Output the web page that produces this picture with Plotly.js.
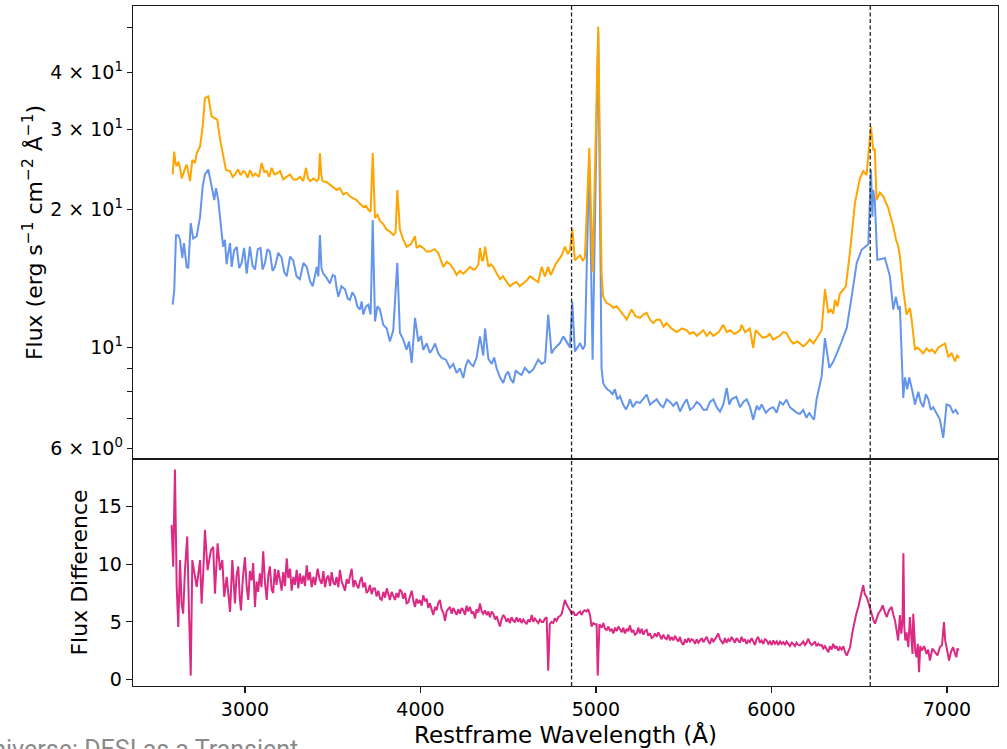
<!DOCTYPE html>
<html>
<head>
<meta charset="utf-8">
<script src="https://cdn.plot.ly/plotly-3.0.1.min.js"></script>
<style>html,body{margin:0;padding:0;background:#fff;}#chart{width:1007px;height:749px;}</style>
</head>
<body>
<div id="chart"></div>
<script>
// ---- Data ----
const waveOrange = [2588,2597,2604,2611,2620,2630,2640,2648,2658,2668,2678,2687,2700,2715,2725,2744,2759,2772,2791,2801,2810,2829,2842,2858,2876,2892,2915,2930,2943,2960,2975,2990,3000,3015,3028,3045,3060,3080,3095,3110,3124,3138,3152,3168,3181,3200,3218,3238,3256,3275,3295,3315,3332,3348,3360,3370,3390,3409,3420,3427,3435,3443,3465,3484,3503,3523,3540,3560,3580,3598,3615,3636,3655,3674,3690,3703,3716,3728,3741,3755,3769,3788,3807,3828,3845,3858,3868,3883,3900,3921,3945,3969,3978,3995,4016,4035,4054,4080,4101,4115,4130,4150,4168,4190,4206,4225,4244,4262,4282,4300,4311,4330,4339,4350,4358,4368,4387,4400,4415,4435,4453,4470,4491,4510,4530,4548,4566,4586,4605,4624,4650,4671,4691,4709,4728,4742,4757,4770,4785,4805,4823,4840,4852,4865,4880,4895,4909,4925,4937,4962,4981,5013,5032,5041,5061,5080,5099,5118,5137,5155,5175,5190,5203,5225,5251,5270,5289,5308,5327,5345,5365,5385,5403,5430,5460,5490,5517,5535,5555,5575,5593,5612,5631,5650,5669,5700,5726,5745,5764,5790,5821,5830,5850,5877,5896,5910,5925,5950,5973,5990,6010,6030,6048,6067,6086,6105,6124,6150,6181,6200,6219,6240,6257,6286,6305,6324,6338,6352,6362,6376,6390,6424,6447,6476,6504,6523,6542,6567,6580,6589,6599,6618,6637,6665,6694,6710,6723,6732,6751,6770,6789,6799,6818,6830,6846,6865,6884,6900,6915,6932,6951,6970,6989,7008,7027,7046,7058,7070];
const fluxOrange = [23.9,26.8,25.3,24.9,25.5,24.7,23.4,24.0,24.6,25.1,24.2,23.1,25.7,25.3,26.6,27.5,30.4,35.1,35.4,33.7,32.0,31.7,31.5,28.5,26.2,24.4,24.3,23.6,23.9,24.5,23.8,24.3,24.2,23.5,24.4,23.7,24.0,23.6,25.3,24.2,24.3,23.6,24.7,23.9,24.0,24.3,23.3,23.6,23.9,23.3,23.3,23.6,23.1,24.7,23.4,23.1,23.4,23.1,23.4,26.6,23.8,23.1,23.0,22.7,22.4,22.1,22.3,21.6,21.8,21.4,21.2,21.0,20.6,20.3,20.4,20.0,19.8,26.6,19.2,19.5,18.9,18.6,18.1,17.9,17.6,17.8,22.1,18.1,17.3,16.6,16.8,17.5,16.5,16.7,16.5,16.2,16.2,16.4,16.1,15.6,15.0,15.4,15.2,14.8,14.4,14.7,14.5,14.7,15.0,14.8,14.8,15.2,16.5,15.5,15.5,16.6,15.0,15.2,15.0,14.5,14.1,14.3,13.9,13.6,13.8,13.9,13.6,13.8,14.0,14.3,14.1,13.9,15.0,14.3,15.0,14.4,14.8,15.2,15.5,15.9,16.6,16.0,16.3,18.2,15.5,15.7,15.9,15.5,15.7,27.3,14.6,50.3,14.5,12.9,12.5,12.4,12.2,12.3,12.0,11.8,11.5,11.8,12.1,11.7,11.6,11.8,11.9,11.5,11.3,11.5,11.5,11.1,11.3,11.0,10.8,11.0,10.9,10.7,10.8,10.6,10.75,10.9,10.6,10.8,10.6,10.8,11.2,10.8,10.9,10.7,10.9,11.2,10.8,11.0,9.97,10.9,10.75,10.5,10.55,10.7,10.4,10.5,10.6,10.8,10.75,10.4,10.2,10.3,10.05,10.2,10.4,10.2,10.45,10.9,13.4,11.9,12.1,11.85,12.7,12.3,13.1,13.6,16.1,20.7,23.4,24.3,23.8,30.4,27.0,27.2,21.0,21.8,21.4,20.2,18.4,17.2,16.6,15.8,13.4,11.8,12.2,11.5,9.88,10.0,9.88,9.7,9.95,9.8,9.9,9.72,10.0,10.1,10.2,9.55,9.7,9.32,9.6,9.48];

const waveBlue = [2588,2597,2607,2620,2630,2643,2652,2668,2677,2691,2705,2725,2744,2759,2772,2791,2810,2825,2835,2848,2867,2876,2886,2895,2905,2915,2924,2938,2953,2967,2981,2995,3010,3019,3028,3043,3057,3073,3089,3100,3114,3128,3142,3157,3171,3190,3209,3224,3238,3257,3275,3294,3313,3333,3352,3370,3386,3400,3409,3418,3427,3436,3446,3465,3484,3500,3513,3522,3532,3550,3570,3585,3598,3612,3627,3640,3655,3665,3674,3690,3703,3716,3728,3741,3755,3769,3788,3808,3826,3845,3868,3883,3902,3921,3935,3950,3969,3988,4003,4016,4035,4054,4068,4083,4102,4121,4145,4168,4187,4206,4225,4244,4258,4272,4286,4301,4320,4339,4358,4368,4387,4406,4420,4434,4453,4472,4486,4500,4515,4529,4543,4557,4576,4595,4620,4643,4657,4671,4691,4710,4728,4747,4760,4776,4795,4814,4833,4852,4865,4880,4895,4909,4925,4937,4962,4981,5013,5032,5041,5051,5065,5080,5094,5108,5122,5137,5155,5171,5185,5194,5210,5230,5251,5270,5289,5308,5327,5346,5365,5384,5403,5422,5441,5460,5479,5498,5517,5536,5555,5574,5593,5612,5631,5650,5669,5688,5707,5726,5745,5760,5773,5800,5821,5840,5859,5878,5896,5916,5930,5944,5968,5992,6010,6030,6048,6067,6086,6105,6124,6143,6162,6181,6200,6215,6229,6243,6257,6286,6305,6330,6352,6365,6381,6400,6429,6457,6486,6514,6533,6552,6567,6575,6580,6589,6603,6627,6646,6660,6675,6694,6709,6723,6732,6751,6761,6774,6785,6804,6818,6837,6850,6865,6880,6894,6908,6922,6941,6960,6979,6998,7017,7035,7050,7064];
const fluxBlue = [12.4,13.3,17.6,17.6,17.2,15.7,16.9,15.0,14.9,18.7,17.3,17.5,19.3,22.5,23.9,24.5,22.5,21.0,22.3,21.0,17.8,16.6,17.2,15.2,16.1,16.9,15.0,16.3,16.6,14.9,15.3,16.5,14.5,15.6,16.6,15.1,14.8,16.4,16.5,14.8,15.3,16.4,16.2,14.7,15.0,16.1,15.7,14.6,14.3,15.8,15.5,14.3,14.1,15.3,15.0,14.0,13.6,14.4,15.0,14.3,17.6,14.9,14.5,14.2,13.8,14.4,14.3,13.5,12.9,13.6,13.4,12.8,12.7,13.2,12.9,12.3,12.1,12.6,11.8,12.3,12.4,11.8,19.0,11.4,12.3,12.1,11.2,11.0,10.3,10.9,15.3,10.75,10.4,9.88,10.3,9.25,11.6,10.3,10.6,9.88,10.2,9.72,9.9,10.2,9.7,9.48,9.4,9.02,9.2,8.79,9.0,8.57,9.1,9.40,9.2,9.1,9.5,10.57,9.6,11.0,9.45,9.2,9.5,9.0,8.6,8.36,8.7,8.85,8.5,8.36,8.9,8.8,8.7,9.02,8.8,8.95,9.2,9.4,9.2,9.3,11.8,9.7,9.9,10.05,10.22,10.57,10.3,10.0,12.6,9.8,10.0,10.22,9.9,10.1,26.0,9.4,49.0,9.0,8.36,8.22,8.1,8.02,7.9,8.1,7.7,7.82,7.5,7.31,7.5,7.7,7.4,7.6,7.56,7.7,7.88,7.5,7.6,7.7,7.5,7.4,7.7,7.6,7.45,7.6,7.24,7.5,7.7,7.3,7.4,7.6,7.5,7.3,7.3,7.6,7.7,7.4,7.24,7.5,8.15,7.5,7.7,7.8,7.4,7.6,7.7,7.4,6.95,7.45,7.3,7.5,7.2,7.35,7.4,7.2,7.6,7.5,7.69,7.4,7.3,7.2,7.15,7.3,7.01,7.2,7.05,6.95,7.69,8.64,10.48,9.02,9.3,9.6,9.88,10.3,11.03,12.9,15.3,16.35,16.6,16.8,24.5,19.3,22.1,21.0,15.55,15.6,15.7,15.0,14.3,12.1,12.9,12.1,12.3,7.75,8.6,8.1,8.6,8.0,7.5,8.0,7.6,7.4,7.9,7.7,7.3,7.4,7.19,6.95,6.34,7.5,7.45,7.2,7.3,7.13];

const waveDiff = [2582,2591,2601,2611,2620,2630,2639,2648,2658,2671,2681,2691,2700,2711,2725,2744,2753,2762,2772,2787,2806,2819,2829,2844,2858,2871,2882,2896,2915,2928,2943,2952,2962,2970,2977,2988,3000,3010,3019,3028,3038,3047,3057,3066,3075,3085,3094,3104,3114,3124,3133,3142,3152,3161,3170,3180,3190,3200,3209,3218,3228,3238,3247,3257,3266,3276,3285,3295,3304,3313,3323,3333,3342,3352,3361,3370,3380,3390,3400,3414,3425,3437,3447,3456,3466,3475,3485,3494,3504,3513,3522,3532,3541,3551,3560,3570,3580,3590,3599,3608,3618,3627,3636,3646,3655,3665,3674,3684,3693,3703,3712,3722,3731,3741,3750,3760,3770,3779,3789,3798,3808,3817,3826,3836,3845,3855,3864,3874,3883,3893,3902,3912,3921,3931,3940,3950,3960,3969,3978,3988,3997,4007,4016,4026,4035,4045,4054,4064,4073,4083,4092,4101,4111,4120,4130,4140,4149,4158,4168,4178,4187,4197,4206,4216,4225,4235,4244,4254,4263,4272,4282,4292,4301,4311,4320,4330,4339,4349,4358,4368,4377,4387,4396,4406,4415,4425,4434,4444,4453,4462,4472,4481,4491,4500,4510,4519,4529,4538,4548,4557,4567,4576,4586,4595,4605,4614,4624,4634,4643,4652,4662,4671,4681,4691,4700,4710,4719,4728,4737,4747,4757,4766,4776,4785,4795,4805,4814,4823,4833,4842,4852,4862,4871,4880,4890,4900,4909,4918,4928,4937,4947,4956,4966,4975,4985,4994,5004,5010,5020,5033,5042,5052,5061,5071,5080,5090,5099,5109,5118,5128,5137,5147,5156,5165,5175,5184,5194,5203,5213,5222,5232,5241,5251,5260,5270,5279,5289,5298,5308,5317,5327,5336,5346,5355,5365,5374,5384,5393,5403,5412,5422,5431,5441,5450,5460,5470,5479,5488,5498,5508,5517,5527,5536,5546,5555,5565,5574,5584,5593,5603,5612,5622,5631,5641,5650,5660,5669,5679,5688,5697,5707,5716,5725,5735,5744,5754,5763,5773,5782,5792,5801,5811,5820,5830,5839,5849,5858,5868,5877,5887,5896,5906,5915,5925,5934,5944,5953,5963,5973,5982,5992,6001,6011,6020,6030,6039,6049,6058,6067,6077,6086,6096,6105,6115,6124,6134,6143,6153,6162,6172,6181,6191,6200,6210,6219,6229,6238,6248,6257,6267,6276,6286,6295,6305,6314,6324,6333,6343,6352,6362,6371,6381,6390,6400,6410,6419,6429,6438,6448,6459,6470,6482,6495,6509,6523,6532,6542,6552,6561,6571,6580,6590,6600,6609,6622,6634,6645,6657,6670,6685,6695,6704,6714,6722,6732,6740,6747,6752,6757,6763,6770,6780,6789,6796,6804,6808,6815,6820,6827,6834,6841,6848,6856,6870,6884,6893,6903,6917,6932,6946,6960,6972,6983,6990,6998,7005,7012,7023,7035,7045,7054,7060,7067];
const diffVals = [13.4,9.77,18.2,8.03,4.55,10.35,6.58,5.71,9.48,12.4,6.0,0.35,10.35,9.19,8.03,10.35,6.58,9.19,12.96,9.48,11.2,11.5,7.45,11.8,9.48,10.35,7.16,8.9,5.86,10.35,6.6,9.0,9.8,7.2,6.0,8.8,10.6,8.0,6.9,9.4,8.6,10.1,6.3,8.5,7.6,9.2,8.0,11.1,8.4,6.9,9.0,9.8,7.8,7.5,9.6,8.2,9.5,8.6,7.7,9.3,8.1,10.5,8.8,9.6,7.7,8.9,8.2,9.5,7.9,9.2,8.3,9.0,8.1,9.9,8.6,9.3,8.0,8.9,8.2,9.6,8.7,8.3,9.4,8.0,8.8,9.0,8.1,9.3,8.4,8.2,8.9,8.0,9.5,8.5,8.1,7.7,8.7,8.3,9.0,9.6,8.0,8.6,8.2,7.9,8.5,8.9,8.0,8.4,7.5,7.7,8.2,7.4,7.9,7.9,7.2,7.7,7.0,6.9,7.6,7.1,7.9,7.5,6.9,7.6,7.2,6.9,7.5,7.1,7.8,7.6,7.0,7.5,6.6,6.7,7.2,7.7,6.8,6.3,7.0,6.6,6.9,6.4,7.3,6.8,7.0,6.2,6.6,6.0,5.6,6.3,6.0,6.6,6.9,6.1,5.8,5.1,5.9,6.1,6.3,5.7,6.2,5.9,5.6,6.1,5.7,6.2,6.0,5.6,6.4,5.9,6.3,5.7,5.9,5.3,6.1,5.8,6.6,5.9,5.7,6.0,5.6,5.9,5.4,5.9,5.7,5.2,5.5,5.0,4.6,5.2,5.6,5.4,5.0,5.3,4.9,5.4,5.1,5.0,5.4,5.0,5.3,4.9,5.2,5.0,4.8,5.2,5.0,5.6,5.0,5.3,5.1,4.9,5.2,5.0,5.0,5.3,5.4,0.78,4.8,5.0,4.9,5.3,5.1,5.4,5.5,5.7,6.3,6.9,6.5,6.3,6.0,5.7,5.9,5.6,5.6,5.8,5.9,5.6,5.9,6.0,5.9,6.1,5.6,4.6,4.9,4.8,4.8,0.35,4.8,4.5,4.9,4.4,4.3,4.6,4.2,4.4,4.0,4.5,4.2,4.6,4.4,4.1,4.5,4.0,4.4,4.2,4.7,4.1,4.3,3.9,4.0,4.5,4.0,4.4,3.9,4.2,4.3,3.8,4.0,3.6,3.7,4.0,3.7,4.1,3.8,3.5,3.9,3.6,3.5,3.9,3.4,3.7,3.4,3.8,3.5,3.3,3.7,3.2,3.0,3.5,3.2,3.6,3.3,3.5,3.4,3.1,3.5,3.2,3.4,3.6,3.25,3.5,3.7,3.3,3.1,3.6,3.3,3.5,3.7,4.0,3.5,3.3,3.1,3.6,3.2,3.5,3.3,3.7,3.5,3.2,3.6,3.4,3.2,3.7,3.3,3.5,3.1,3.4,3.25,3.6,3.3,3.0,3.5,3.7,3.2,3.4,3.1,3.5,3.4,3.1,3.3,3.0,3.4,3.1,3.3,3.0,3.3,3.1,3.25,3.0,3.3,3.1,2.9,3.2,3.1,2.9,3.2,3.0,2.96,3.1,3.3,3.0,3.2,3.54,3.2,3.0,3.1,3.3,2.9,3.1,2.96,3.0,2.7,2.9,2.6,2.38,2.9,2.6,3.1,2.7,2.9,2.5,2.8,2.6,2.9,2.4,2.09,2.5,2.8,3.9,4.84,5.6,6.29,7.2,8.17,7.4,7.16,6.7,6.29,5.71,5.2,4.84,5.3,5.71,6.0,6.43,5.9,5.42,6.0,6.29,5.6,5.13,4.2,3.39,5.6,3.97,5.2,10.93,4.6,3.39,4.1,2.81,5.42,3.6,2.23,5.71,3.0,2.4,1.94,3.1,0.64,2.9,2.52,2.9,2.23,2.6,1.65,2.7,2.38,2.1,2.81,3.0,4.99,3.4,2.81,2.2,1.65,2.4,2.81,2.3,1.94,2.7,2.52];

// reference lines (H-beta, H-alpha)
const refLines = [4861, 6563];

// tick labels
const xTickVals = [3000, 4000, 5000, 6000, 7000];
const xTickText = ['3000', '4000', '5000', '6000', '7000'];
const yTopTickVals = [6, 7, 8, 9, 10, 20, 30, 40, 50];
const yTopTickText = ['6 × 10<sup>0</sup>', '', '', '', '10<sup>1</sup>', '2 × 10<sup>1</sup>', '3 × 10<sup>1</sup>', '4 × 10<sup>1</sup>', ''];
const yBotTickVals = [0, 5, 10, 15];
const yBotTickText = ['0', '5', '10', '15'];

const FONT = 'DejaVu Sans, sans-serif';
const AX = '#1a1a1a';

const traces = [
  {x: waveBlue, y: fluxBlue, type: 'scatter', mode: 'lines', name: 'Spectrum (blue)',
   line: {color: '#6495ED', width: 2}, xaxis: 'x', yaxis: 'y', showlegend: false},
  {x: waveOrange, y: fluxOrange, type: 'scatter', mode: 'lines', name: 'Spectrum (orange)',
   line: {color: '#FFA500', width: 2}, xaxis: 'x', yaxis: 'y', showlegend: false},
  {x: waveDiff, y: diffVals, type: 'scatter', mode: 'lines', name: 'Flux Difference',
   line: {color: '#DC2A84', width: 2}, xaxis: 'x2', yaxis: 'y2', showlegend: false}
];

const shapes = refLines.map(v => ({
  type: 'line', xref: 'x', yref: 'paper', x0: v, x1: v, y0: 0, y1: 1,
  line: {color: '#222', width: 1.3, dash: '4px,2.5px'}
}));

const split = 227 / 680;
const layout = {
  width: 1007, height: 749,
  margin: {l: 133, r: 9, t: 6, b: 63},
  paper_bgcolor: '#fff', plot_bgcolor: '#fff',
  font: {family: FONT, color: '#000', size: 19},
  showlegend: false,
  xaxis: {domain: [0, 1], anchor: 'y', range: [2362, 7291], showgrid: false, zeroline: false,
          showticklabels: false, ticks: '', showline: true, mirror: true, linecolor: AX, linewidth: 1.3},
  yaxis: {domain: [split, 1], anchor: 'x', type: 'log', range: [Math.log10(5.70), Math.log10(55.8)],
          tickmode: 'array', tickvals: yTopTickVals, ticktext: yTopTickText,
          ticks: 'outside', ticklen: 5, tickwidth: 1.2, tickcolor: AX,
          showgrid: false, zeroline: false, showline: true, mirror: true, linecolor: AX, linewidth: 1.3,
          tickfont: {family: FONT, size: 19, color: '#000'},
          title: {text: 'Flux (erg s<sup>−1</sup> cm<sup>−2</sup> Å<sup>−1</sup>)', font: {family: FONT, size: 22, color: '#000'}, standoff: 1}},
  xaxis2: {domain: [0, 1], anchor: 'y2', matches: 'x', range: [2362, 7291], showgrid: false, zeroline: false,
           tickmode: 'array', tickvals: xTickVals, ticktext: xTickText,
           ticks: 'outside', ticklen: 6, tickwidth: 1.2, tickcolor: AX,
           showline: true, mirror: true, linecolor: AX, linewidth: 1.3,
           tickfont: {family: FONT, size: 19, color: '#000'},
           title: {text: 'Restframe Wavelength (Å)', font: {family: FONT, size: 23, color: '#000'}, standoff: 7}},
  yaxis2: {domain: [0, split], anchor: 'x2', range: [-0.55, 19.1], showgrid: false, zeroline: false,
           tickmode: 'array', tickvals: yBotTickVals, ticktext: yBotTickText,
           ticks: 'outside', ticklen: 6, tickwidth: 1.2, tickcolor: AX,
           showline: true, mirror: true, linecolor: AX, linewidth: 1.3,
           tickfont: {family: FONT, size: 19, color: '#000'},
           title: {text: 'Flux Difference', font: {family: FONT, size: 22, color: '#000'}, standoff: 4}},
  shapes: shapes,
  annotations: [{
    text: 'Universe: DESI as a Transient', xref: 'paper', yref: 'paper',
    x: (300 - 133) / 865, y: (686 - 733) / 680, xanchor: 'right', yanchor: 'top',
    showarrow: false, font: {family: 'Roboto, sans-serif', size: 25, color: '#8a8a8a'}
  }]
};

Plotly.newPlot('chart', traces, layout, {displayModeBar: false, staticPlot: true});
</script>
</body>
</html>
